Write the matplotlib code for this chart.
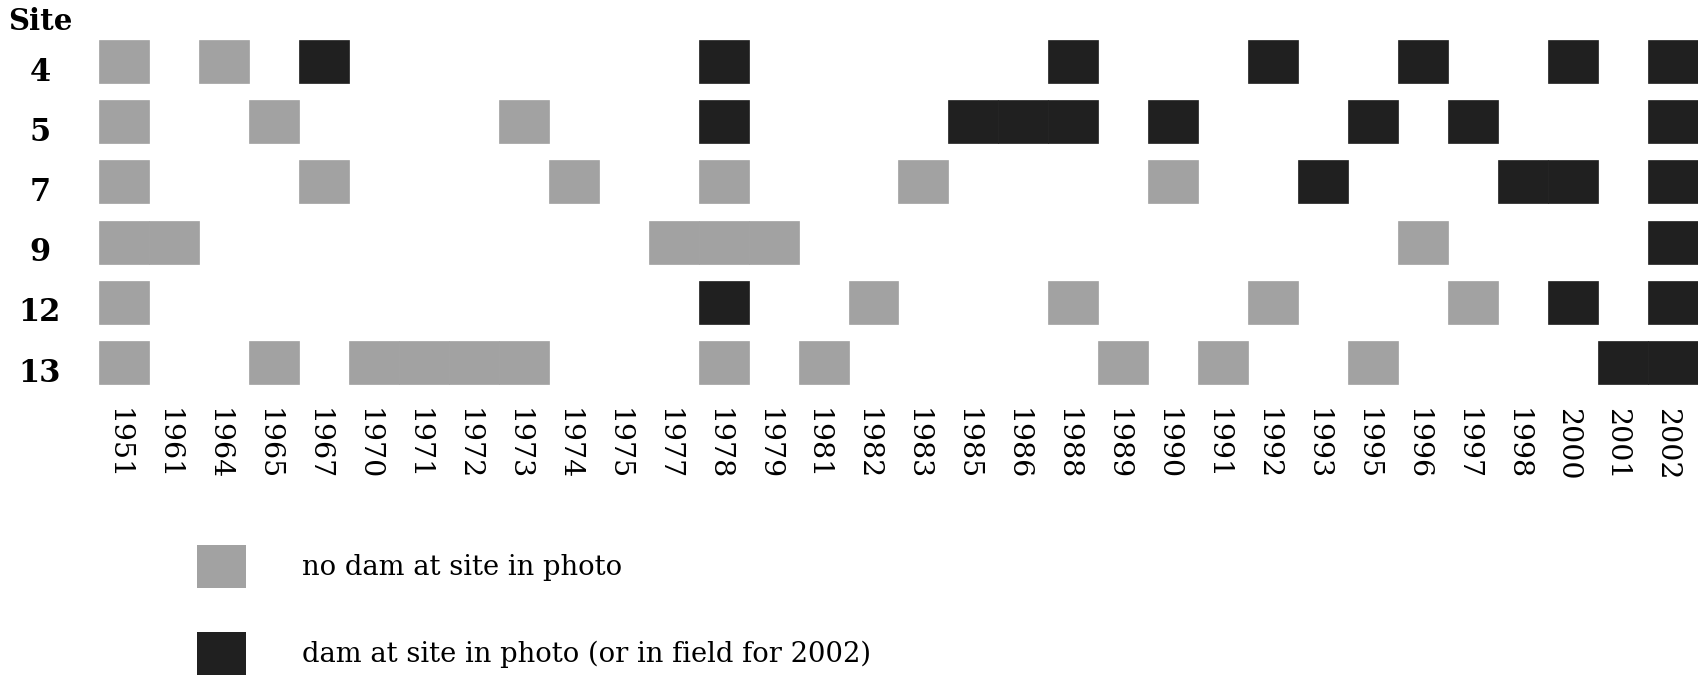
import numpy as np
import matplotlib
matplotlib.use('Agg')
import matplotlib.pyplot as plt
from matplotlib.patches import Patch
from matplotlib.transforms import ScaledTranslation

years = [1951, 1961, 1964, 1965, 1967, 1970, 1971, 1972, 1973, 1974, 1975,
         1977, 1978, 1979, 1981, 1982, 1983, 1985, 1986, 1988, 1989, 1990,
         1991, 1992, 1993, 1995, 1996, 1997, 1998, 2000, 2001, 2002]
sites = [4, 5, 7, 9, 12, 13]

# years where the photo shows no dam at the site
no_dam = {
    4: [1951, 1964],
    5: [1951, 1965, 1973],
    7: [1951, 1967, 1974, 1978, 1983, 1990],
    9: [1951, 1961, 1977, 1978, 1979, 1996],
    12: [1951, 1982, 1988, 1992, 1997],
    13: [1951, 1965, 1970, 1971, 1972, 1973, 1978, 1981, 1989, 1991, 1995],
}
# years where a dam is present (2002 = field survey)
dam = {
    4: [1967, 1978, 1988, 1992, 1996, 2000, 2002],
    5: [1978, 1985, 1986, 1988, 1990, 1995, 1997, 2002],
    7: [1993, 1998, 2000, 2002],
    9: [2002],
    12: [1978, 2000, 2002],
    13: [2001, 2002],
}

gray = '#a2a2a2'
black = '#202020'
W, H = 1706, 680

fig = plt.figure(figsize=(W / 100, H / 100), dpi=100)
ax = fig.add_axes([99 / W, 1 - 392.6 / H, 1599 / W, 361.2 / H])

for i, s in enumerate(sites):
    for yrs, c in ((no_dam[s], gray), (dam[s], black)):
        cols = [years.index(y) for y in yrs]
        ax.barh([i] * len(cols), 1, left=cols, height=0.714, color=c,
                edgecolor=c, linewidth=0.5, align='center')

ax.set_xlim(0, len(years))
ax.set_ylim(len(sites) - 0.5, -0.5)
for sp in ax.spines.values():
    sp.set_visible(False)

ax.set_xticks(np.arange(len(years)) + 0.5)
ax.set_xticklabels([str(y) for y in years], rotation=-90,
                   fontfamily='DejaVu Serif', fontsize=20.5)
ax.tick_params(axis='x', length=0, pad=11)
for lbl in ax.get_xticklabels():
    lbl.set_transform(lbl.get_transform() +
                      ScaledTranslation(-6 / 100, 0, fig.dpi_scale_trans))

ax.set_yticks(range(len(sites)))
ax.set_yticklabels([str(s) for s in sites], fontfamily='DejaVu Serif',
                   fontweight='bold', fontsize=22)
ax.tick_params(axis='y', length=0, pad=42.5)
for lbl in ax.get_yticklabels():
    lbl.set_ha('center')
    lbl.set_transform(lbl.get_transform() +
                      ScaledTranslation(0, -7 / 100, fig.dpi_scale_trans))

fig.text(40 / W, 1 - 21 / H, 'Site', ha='center', va='center',
         fontfamily='DejaVu Serif', fontweight='bold', fontsize=21)

handles = [Patch(facecolor=gray, edgecolor='none'),
           Patch(facecolor=black, edgecolor='none')]
fig.legend(handles, ['no dam at site in photo',
                     'dam at site in photo (or in field for 2002)'],
           loc='upper left', bbox_to_anchor=(197 / W, 1 - 545 / H),
           bbox_transform=fig.transFigure, frameon=False,
           prop={'family': 'DejaVu Serif', 'size': 19.7},
           handlelength=1.79, handleheight=2.04, handletextpad=2.04,
           labelspacing=1.6, borderpad=0, borderaxespad=0)

fig.savefig('out.png', dpi=100)
